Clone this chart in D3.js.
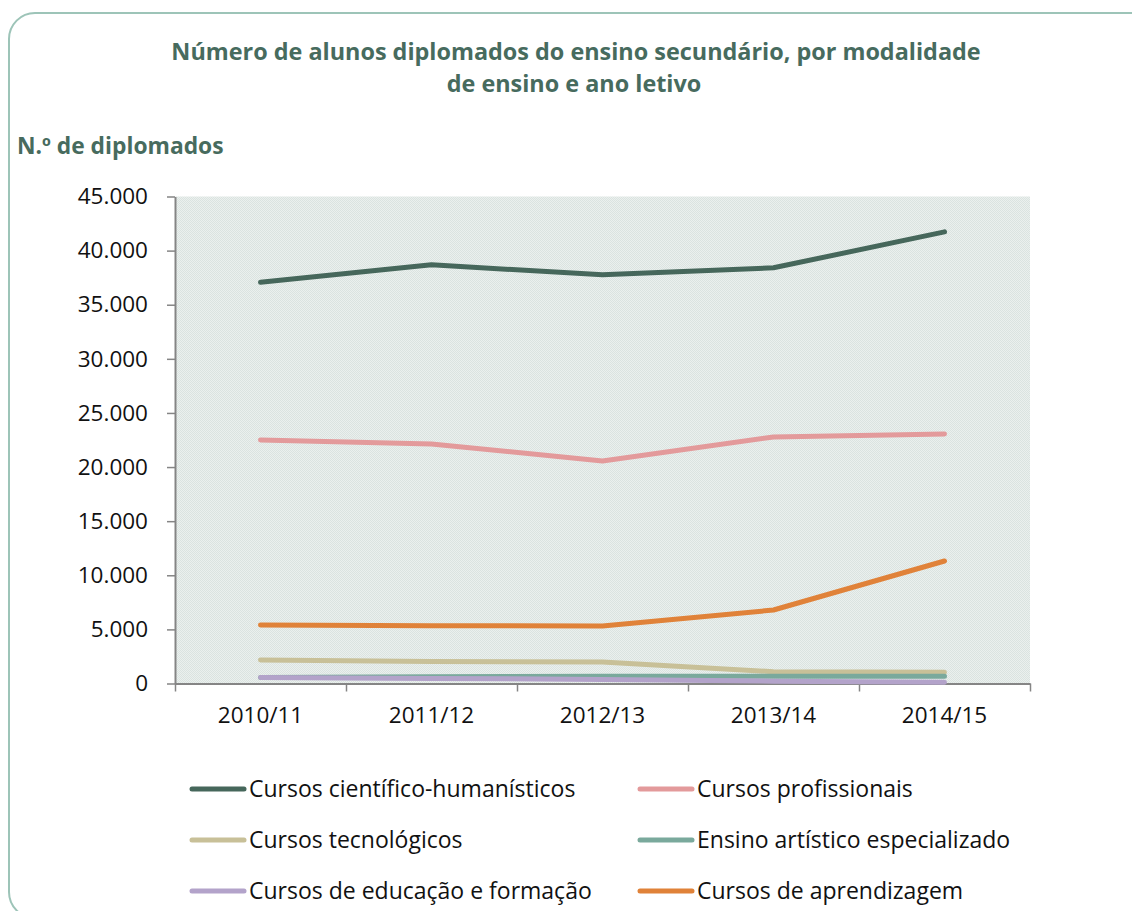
<!DOCTYPE html>
<html>
<head>
<meta charset="utf-8">
<script src="https://cdn.jsdelivr.net/npm/d3@7"></script>
<style>
  body { margin: 0; background: #fff; }
  svg { display: block; font-family: "Open Sans", sans-serif; }
</style>
</head>
<body>
<svg id="chart" width="1132" height="911"></svg>
<script>
    /**
     * Data
     */
    const years = ['2010/11', '2011/12', '2012/13', '2013/14', '2014/15']
    const yTicks = [0, 5000, 10000, 15000, 20000, 25000, 30000, 35000, 40000, 45000]

    const cientifico = [37070, 38690, 37760, 38410, 41730]
    const profissionais = [22500, 22130, 20560, 22780, 23060]
    const tecnologicos = [2170, 2030, 1990, 1090, 1030]
    const artistico = [560, 620, 660, 680, 680]
    const educacao = [560, 470, 380, 210, 110]
    const aprendizagem = [5400, 5340, 5310, 6790, 11320]

    const seriesNames = [
        'Cursos científico-humanísticos',
        'Cursos profissionais',
        'Cursos tecnológicos',
        'Ensino artístico especializado',
        'Cursos de educação e formação',
        'Cursos de aprendizagem'
    ]
    const seriesValues = [cientifico, profissionais, tecnologicos, artistico, educacao, aprendizagem]
    const seriesColors = ['#46675b', '#e39a9b', '#c8c098', '#7aa99c', '#b3a3ca', '#e08239']

    const series = seriesNames.map((name, i) => ({
        name: name,
        color: seriesColors[i],
        values: seriesValues[i]
    }))

    const svg = d3.select('#chart')

    /**
     * @Frame
     */
    svg.append('rect')
        .attr('x', 9)
        .attr('y', 13)
        .attr('width', 1150)
        .attr('height', 905)
        .attr('rx', 26)
        .attr('fill', 'none')
        .attr('stroke', '#9dc4b8')
        .attr('stroke-width', 2)

    /**
     * @Titles
     */
    const titleColor = '#476b5e'
    svg.append('text')
        .attr('x', 576)
        .attr('y', 60)
        .attr('text-anchor', 'middle')
        .attr('fill', titleColor)
        .style('font-weight', 'bold')
        .style('font-size', '23.4px')
        .text('Número de alunos diplomados do ensino secundário, por modalidade')
    svg.append('text')
        .attr('x', 574)
        .attr('y', 92)
        .attr('text-anchor', 'middle')
        .attr('fill', titleColor)
        .style('font-weight', 'bold')
        .style('font-size', '23.4px')
        .text('de ensino e ano letivo')
    svg.append('text')
        .attr('x', 17)
        .attr('y', 154)
        .attr('fill', titleColor)
        .style('font-weight', 'bold')
        .style('font-size', '22.8px')
        .text('N.º de diplomados')

    /**
     * @Scales
     */
    const plotLeft = 175, plotRight = 1030, plotTop = 196.5, plotBottom = 683.5
    const x = d3.scaleBand().domain(years).range([plotLeft, plotRight])
    const y = d3.scaleLinear().domain([0, 45000]).range([plotBottom, plotTop])

    /**
     * @PlotArea
     */
    const pattern = svg.append('defs')
        .append('pattern')
        .attr('id', 'dots')
        .attr('width', 2)
        .attr('height', 2)
        .attr('patternUnits', 'userSpaceOnUse')
    pattern.append('rect').attr('width', 2).attr('height', 2).attr('fill', '#ebf0ee')
    pattern.append('rect').attr('width', 1).attr('height', 1).attr('fill', '#dae3e0')
    pattern.append('rect').attr('x', 1).attr('y', 1).attr('width', 1).attr('height', 1).attr('fill', '#dae3e0')

    svg.append('rect')
        .attr('x', plotLeft)
        .attr('y', plotTop)
        .attr('width', plotRight - plotLeft)
        .attr('height', plotBottom - plotTop)
        .attr('fill', 'url(#dots)')

    /**
     * @Axes
     */
    const axisColor = '#858585'
    const fmt = d3.format(',')
    const LabelY = svg.append('g')
        .attr('transform', `translate(${plotLeft},0)`)
        .call(d3.axisLeft(y).tickValues(yTicks).tickSize(8).tickSizeOuter(0).tickPadding(19)
            .tickFormat(d => fmt(d).replace(/,/g, '.')))
    LabelY.select('.domain').attr('stroke', axisColor).attr('stroke-width', 2)
    LabelY.selectAll('.tick line').attr('stroke', axisColor).attr('stroke-width', 1.5)
    LabelY.selectAll('.tick text')
        .attr('fill', '#111')
        .style('font-size', '22.5px')
        .style('font-family', '"Open Sans", sans-serif')

    // tick marks on band edges
    const edges = d3.scaleLinear().domain([0, years.length]).range([plotLeft, plotRight])
    const TickX = svg.append('g')
        .attr('transform', `translate(0,${plotBottom})`)
        .call(d3.axisBottom(edges).ticks(years.length).tickSize(8).tickSizeOuter(0).tickFormat(''))
    TickX.select('.domain').attr('stroke', axisColor).attr('stroke-width', 2)
    TickX.selectAll('.tick line').attr('stroke', axisColor).attr('stroke-width', 1.5)

    const LabelX = svg.append('g')
        .attr('transform', `translate(0,${plotBottom})`)
        .call(d3.axisBottom(x).tickSize(0).tickPadding(24))
    LabelX.select('.domain').remove()
    LabelX.selectAll('.tick text')
        .attr('fill', '#111')
        .style('font-size', '22.5px')
        .style('font-family', '"Open Sans", sans-serif')

    /**
     * @Lines
     */
    const line = d3.line()
        .x((d, i) => x(years[i]) + x.bandwidth() / 2)
        .y(d => y(d))

    svg.append('g')
        .selectAll('path')
        .data(series)
        .enter()
        .append('path')
        .attr('d', d => line(d.values))
        .attr('fill', 'none')
        .attr('stroke', d => d.color)
        .attr('stroke-width', 5)
        .attr('stroke-linecap', 'round')
        .attr('stroke-linejoin', 'round')

    /**
     * @Legend
     */
    const legend = svg.append('g')
        .selectAll('g')
        .data(series)
        .enter()
        .append('g')
        .attr('transform', (d, i) => `translate(${i % 2 === 0 ? 190 : 638},${789 + Math.floor(i / 2) * 51})`)

    legend.append('line')
        .attr('x1', 2)
        .attr('x2', 54)
        .attr('stroke', d => d.color)
        .attr('stroke-width', 5)
        .attr('stroke-linecap', 'round')

    legend.append('text')
        .attr('x', 59)
        .attr('y', 8)
        .attr('fill', '#111')
        .style('font-size', '23px')
        .text(d => d.name)
</script>
</body>
</html>
